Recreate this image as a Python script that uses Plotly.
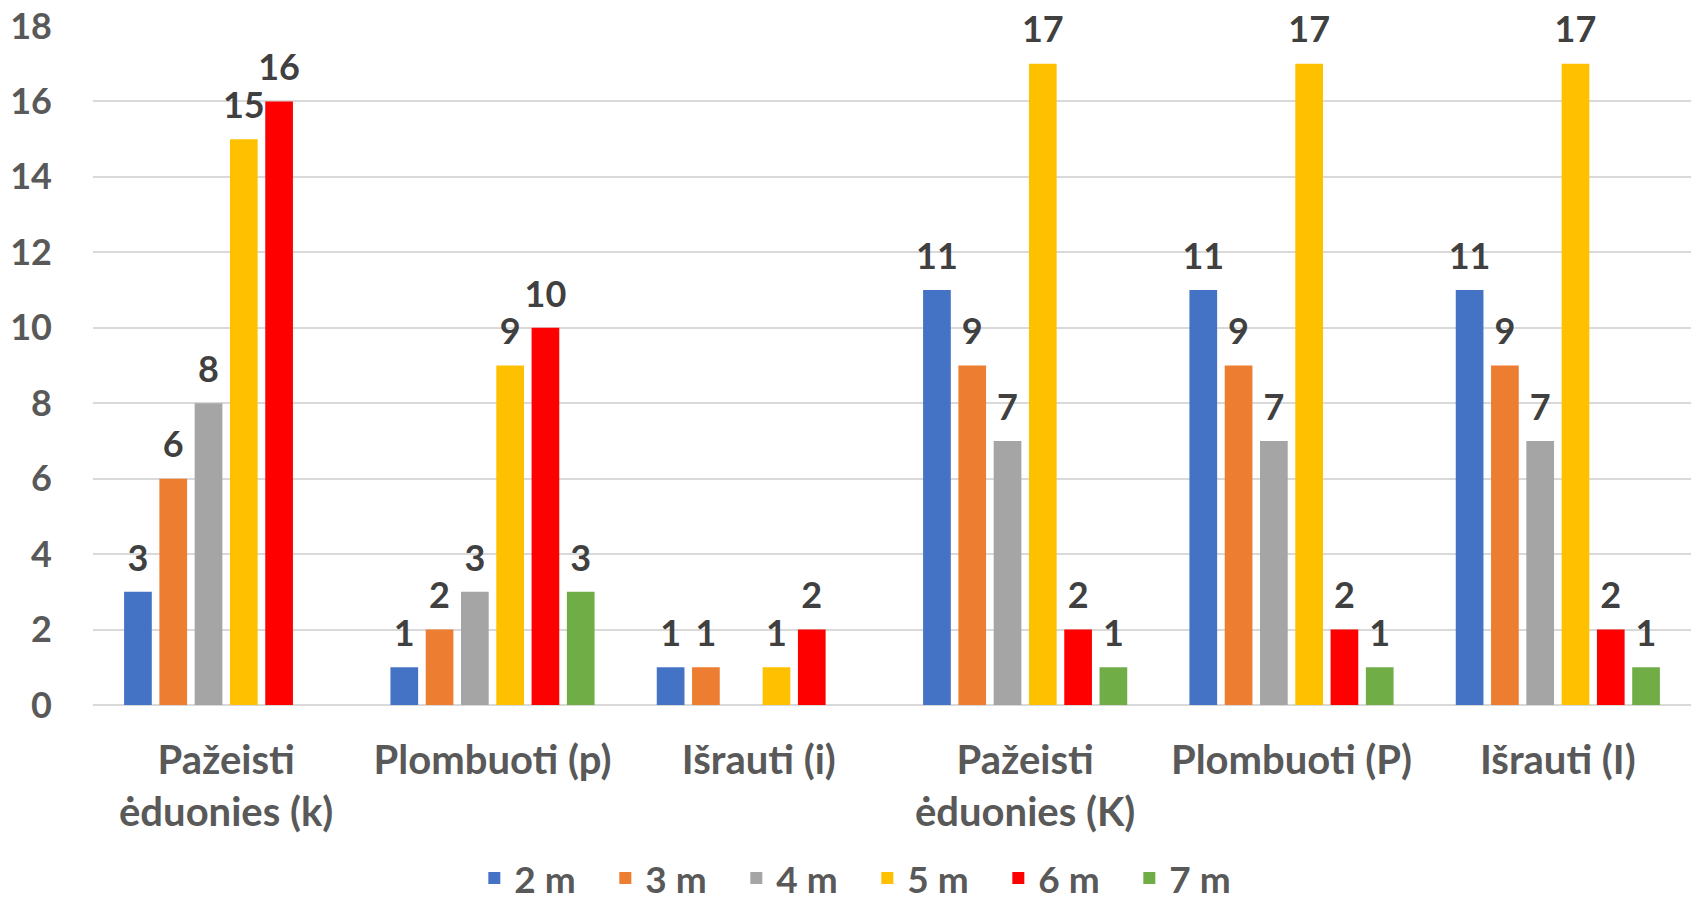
import plotly.graph_objects as go

categories = ["Pažeisti<br>ėduonies (k)", "Plombuoti (p)", "Išrauti (i)",
              "Pažeisti<br>ėduonies (K)", "Plombuoti (P)", "Išrauti (I)"]

series_names = ["2 m", "3 m", "4 m", "5 m", "6 m", "7 m"]
vals_2m = [3, 1, 1, 11, 11, 11]
vals_3m = [6, 2, 1, 9, 9, 9]
vals_4m = [8, 3, None, 7, 7, 7]
vals_5m = [15, 9, 1, 17, 17, 17]
vals_6m = [16, 10, 2, 2, 2, 2]
vals_7m = [None, 3, None, 1, 1, 1]

colors = ["#4472C4", "#ED7D31", "#A5A5A5", "#FFC000", "#FF0000", "#70AD47"]

FONT = "Lato"
all_vals = [vals_2m, vals_3m, vals_4m, vals_5m, vals_6m, vals_7m]

fig = go.Figure()
for name, vals, col in zip(series_names, all_vals, colors):
    fig.add_trace(go.Bar(
        name=name,
        x=categories,
        y=vals,
        marker=dict(color=col, line=dict(width=0)),
        hoverinfo="x+y+name",
    ))

# value labels: grouped scatter text sitting above each bar
for name, vals in zip(series_names, all_vals):
    fig.add_trace(go.Scatter(
        x=categories,
        y=vals,
        mode="markers+text",
        marker=dict(size=18, opacity=0),
        text=[("<b>%d</b>" % v) if v is not None else "" for v in vals],
        textposition="top center",
        textfont=dict(family=FONT, size=36, color="#404040"),
        showlegend=False,
        hoverinfo="skip",
        cliponaxis=False,
    ))

fig.update_layout(
    barmode="group",
    bargap=0.205,
    bargroupgap=0.215,
    scattermode="group",
    scattergap=0.205,
    width=1694,
    height=902,
    paper_bgcolor="white",
    plot_bgcolor="white",
    font=dict(family=FONT, color="#595959"),
    margin=dict(l=93, r=3, t=26, b=197, autoexpand=False),
    showlegend=True,
    legend=dict(
        orientation="h",
        xref="container", yref="container",
        x=0.512, xanchor="center",
        y=0.026, yanchor="middle",
        font=dict(family=FONT, size=37, color="#595959", weight="bold"),
        entrywidth=86,
        entrywidthmode="pixels",
        traceorder="normal",
    ),
)

fig.update_yaxes(
    range=[0, 18],
    dtick=2,
    showgrid=True,
    gridcolor="#D9D9D9",
    gridwidth=1.5,
    zeroline=True,
    zerolinecolor="#D9D9D9",
    zerolinewidth=1.5,
    showline=False,
    ticks="",
    automargin=False,
    ticklabelstandoff=40,
    tickfont=dict(family=FONT, size=36, color="#595959", weight="bold"),
)

fig.update_xaxes(
    showgrid=False,
    showline=False,
    ticks="",
    automargin=False,
    ticklabelstandoff=28,
    tickfont=dict(family=FONT, size=40, color="#595959", weight="bold"),
)

# drop the default 8px page margin so the figure fills the window exactly
fig.write_html("out.html", config={"displayModeBar": False},
               post_script="document.body.style.margin='0';")
